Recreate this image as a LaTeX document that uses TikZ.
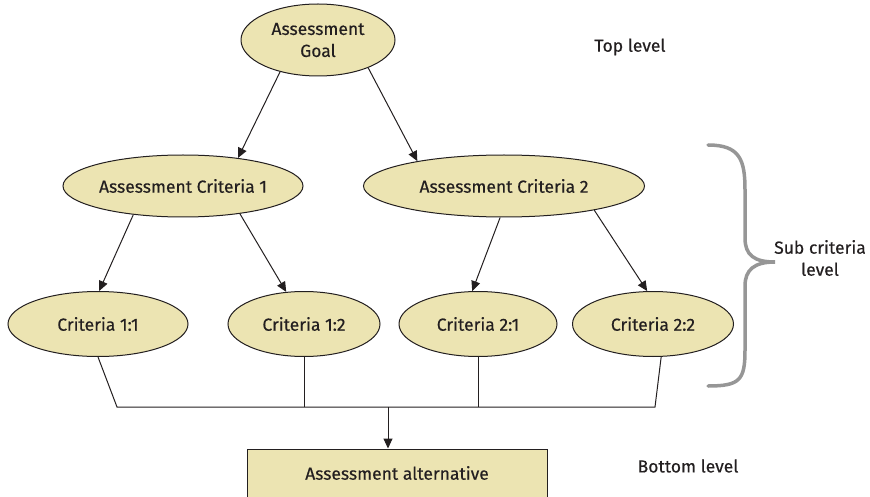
\documentclass[tikz,border=0pt]{standalone}
\usepackage{fontspec}
\setmainfont{Fira Sans}[FakeBold=0.35]
\usetikzlibrary{shapes.geometric,arrows.meta}
\definecolor{boxfill}{RGB}{236,228,178}
\definecolor{ink}{RGB}{35,31,32}
\definecolor{bracegray}{RGB}{150,150,150}
\tikzset{
  txt/.style={font=\fontsize{17.5}{22}\selectfont,text=ink},
  oval/.style={txt,ellipse,draw=ink,line width=1pt,fill=boxfill,inner sep=0pt,align=center},
  altbox/.style={txt,rectangle,draw=ink,line width=1pt,fill=boxfill,inner sep=0pt},
  conn/.style={draw=ink,line width=1pt},
  arr/.style={conn,-{Triangle[length=10pt,width=9pt]}},
  lbl/.style={txt,align=center}
}
\begin{document}
\begin{tikzpicture}[x=1pt,y=-1pt]
\useasboundingbox (0,0) rectangle (870,497);
% nodes
\node[oval,minimum width=154pt,minimum height=72pt] (goal) at (318,40) {Assessment\\Goal};
\node[oval,minimum width=240pt,minimum height=62pt] (ac1) at (183,186) {Assessment Criteria 1};
\node[oval,minimum width=281pt,minimum height=62pt] (ac2) at (504,186) {Assessment Criteria 2};
\node[oval,minimum width=180pt,minimum height=65pt] (c11) at (98,324) {Criteria 1:1};
\node[oval,minimum width=152pt,minimum height=65pt] (c12) at (304,324) {Criteria 1:2};
\node[oval,minimum width=158pt,minimum height=65pt] (c21) at (478,324) {Criteria 2:1};
\node[oval,minimum width=161pt,minimum height=65pt] (c22) at (653,324) {Criteria 2:2};
\node[altbox,minimum width=300pt,minimum height=48pt] (alt) at (397,473) {Assessment alternative};
% labels
\node[lbl] (top) at (630,47) {Top level};
\node[lbl] (sub) at (820,258) {Sub criteria\\level};
\node[lbl] (bot) at (688,466) {Bottom level};
% arrows
\draw[arr] (goal.220) -- (ac1.27);
\draw[arr] (goal.331) -- (ac2.164);
\draw[arr] (ac1.210) -- (c11.88);
\draw[arr] (ac1.334) -- (c12.119);
\draw[arr] (ac2.263) -- (c21.100);
\draw[arr] (ac2.345) -- (c22.100);
% bus
\coordinate (b1) at (117,407);
\coordinate (b2) at (655,407);
\coordinate (m) at (388,407);
\draw[conn] (c11.south) -- (b1) -- (b2) -- (c22.284);
\draw[conn] (c12.south) -- (c12.south |- b1);
\draw[conn] (c21.south) -- (c21.south |- b1);
\draw[arr] (m) -- (m |- alt.north);
% brace
\draw[bracegray,line width=3.5pt,line cap=round]
  (708,145) .. controls (740,145) and (745,160) .. (745,190)
  -- (745,238) .. controls (745,255) and (754,262) .. (775,262)
  .. controls (754,262) and (745,270) .. (745,286)
  -- (745,350) .. controls (745,380) and (740,386) .. (708,386);
\end{tikzpicture}
\end{document}
